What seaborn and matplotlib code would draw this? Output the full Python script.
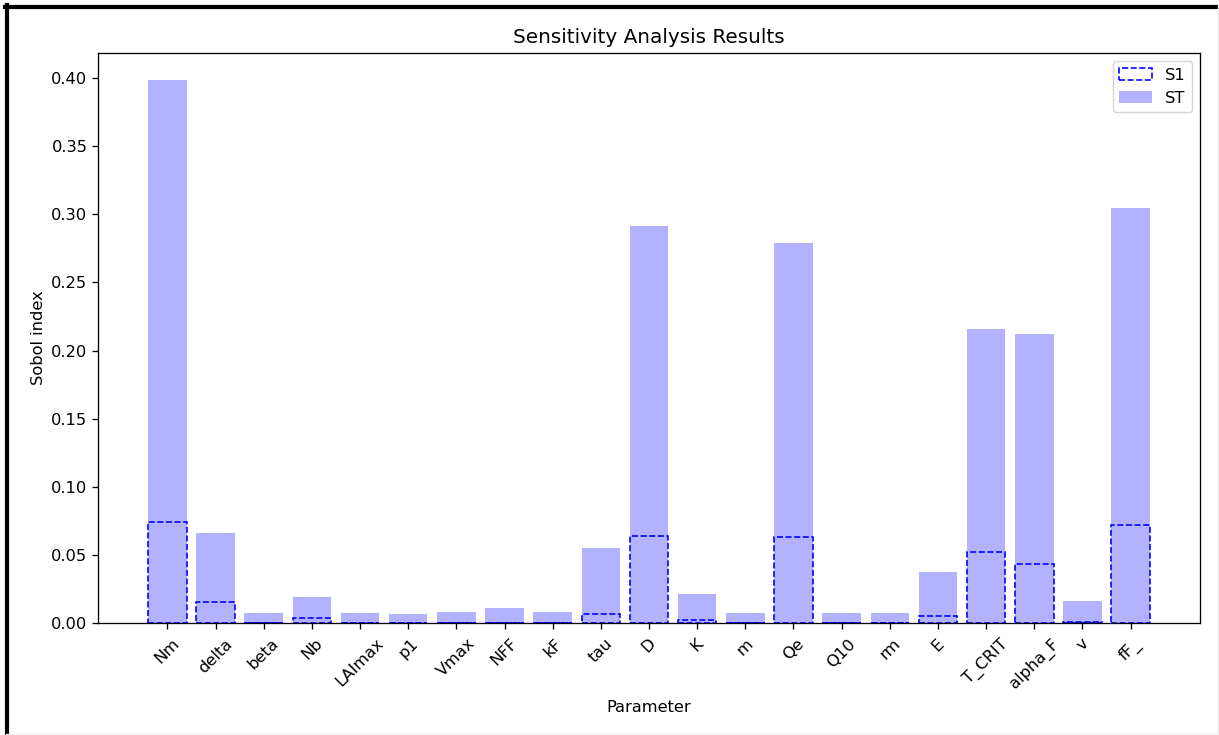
import matplotlib
matplotlib.use("Agg")
import matplotlib.pyplot as plt
import seaborn as sns
import pandas as pd
from matplotlib.lines import Line2D

params = ["Nm", "delta", "beta", "Nb", "LAImax", "p1", "Vmax", "NFF", "kF", "tau",
          "D", "K", "m", "Qe", "Q10", "rm", "E", "T_CRIT", "alpha_F", "v", "fF_"]
ST = [0.3985, 0.0661, 0.0075, 0.0191, 0.0073, 0.0066, 0.0084, 0.0108, 0.0084, 0.0550,
      0.2914, 0.0213, 0.0070, 0.2789, 0.0077, 0.0077, 0.0378, 0.2161, 0.2121, 0.0165, 0.3045]
S1 = [0.0739, 0.0156, 0.0, 0.0034, 0.0, 0.0, 0.0, 0.0, 0.0, 0.0068,
      0.0636, 0.0022, 0.0, 0.0629, 0.0, 0.0, 0.0054, 0.0523, 0.0431, 0.0010, 0.0722]

df = pd.DataFrame({"Parameter": params, "S1": S1, "ST": ST})

S = 1.17
plt.rcParams.update({
    "font.family": ["DejaVu Sans"],
    "font.size": 10 * S,
    "axes.linewidth": 0.8 * S,
    "xtick.major.width": 0.8 * S,
    "ytick.major.width": 0.8 * S,
    "xtick.major.size": 3.5 * S,
    "ytick.major.size": 3.5 * S,
    "xtick.labelsize": 10 * S,
    "ytick.labelsize": 10 * S,
    "axes.titlesize": 12.3 * S,
    "axes.labelsize": 10 * S,
    "legend.fontsize": 10 * S,
})

fig = plt.figure(figsize=(12.19, 7.35), dpi=100)
ax = fig.add_axes([98 / 1219, 1 - 623 / 735, (1200 - 98) / 1219, (623 - 53) / 735])

sns.barplot(data=df, x="Parameter", y="S1", ax=ax, fill=False, color="blue",
            saturation=1, errorbar=None, linestyle="--", linewidth=1.0 * S,
            label="S1", width=0.8)
sns.barplot(data=df, x="Parameter", y="ST", ax=ax, color="blue", alpha=0.3,
            saturation=1, errorbar=None, linewidth=0, label="ST", width=0.8)

n = len(params)
ax.set_xlim(-0.4 - 0.05 * (n - 1 + 0.8), n - 1 + 0.4 + 0.05 * (n - 1 + 0.8))
ax.set_ylim(0, max(ST) * 1.05)
yt = [0.0, 0.05, 0.10, 0.15, 0.20, 0.25, 0.30, 0.35, 0.40]
ax.set_yticks(yt)
ax.set_yticklabels([f"{v:.2f}" for v in yt])
ax.tick_params(axis="x", labelrotation=45, pad=4.5 * S)
ax.set_xlabel("Parameter", labelpad=5 * S)
ax.set_ylabel("Sobol index")
ax.set_title("Sensitivity Analysis Results", pad=6 * S)
for s in ax.spines.values():
    s.set_visible(True)
ax.legend(loc="upper right")

# screenshot frame
W, H = 1219, 735
fig.add_artist(Line2D([5 / W, 1217 / W], [1 - 6.5 / H, 1 - 6.5 / H], color="black", lw=3.0, transform=fig.transFigure))
fig.add_artist(Line2D([6.5 / W, 6.5 / W], [0, 1 - 5 / H], color="black", lw=3.0, transform=fig.transFigure))
fig.add_artist(Line2D([1217.5 / W, 1217.5 / W], [0, 1 - 5 / H], color="#e6e6e6", lw=1.0, transform=fig.transFigure))
fig.add_artist(Line2D([6 / W, 1219 / W], [1 - 733.5 / H, 1 - 733.5 / H], color="#eeeeee", lw=1.0, transform=fig.transFigure))

fig.savefig("out.png", dpi=100)
